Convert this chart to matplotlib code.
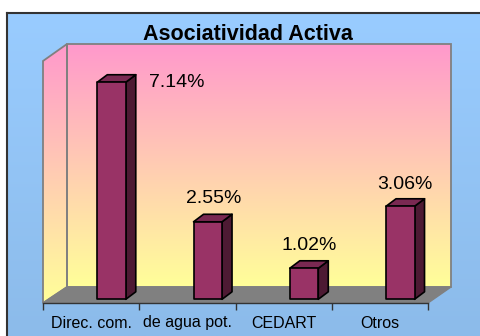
import numpy as np
import matplotlib.pyplot as plt
from matplotlib.colors import LinearSegmentedColormap
from matplotlib.patches import Polygon

plt.rcParams['font.family'] = ['Liberation Sans', 'DejaVu Sans']

# Data
categorias = ["Direc. com.", "de agua pot.", "CEDART", "Otros"]
porcentajes = [7.14, 2.55, 1.02, 3.06]
etiquetas = ["7.14%", "2.55%", "1.02%", "3.06%"]

# label offsets in pixels (first one sits beside the tall bar)
offs_etiq = [(60, -12), (1, 11), (0, 11), (0, 10)]

W, H = 481, 336
fig = plt.figure(figsize=(W / 100, H / 100), dpi=100)

# background layer in pixel coordinates
bg = fig.add_axes([0, 0, 1, 1])
bg.axis('off')

azul = LinearSegmentedColormap.from_list('azul', ['#99CCFF', '#8CBBEA'])
grad = np.linspace(0, 1, 256).reshape(-1, 1)
bg.imshow(grad, cmap=azul, extent=(8, W, H, 13), aspect='auto', origin='upper', zorder=0)
bg.plot([7.5, 7.5], [H, 12.5], color='#333333', lw=1.5, solid_capstyle='projecting', zorder=1)
bg.plot([7.5, W], [12.5, 12.5], color='#333333', lw=1.5, solid_capstyle='projecting', zorder=1)

pared = LinearSegmentedColormap.from_list('pared', ['#FF99CC', '#FFFF99'])

# back wall
bg.imshow(grad, cmap=pared, extent=(67, 451, 287, 44), aspect='auto', origin='upper', zorder=2)
bg.add_patch(Polygon([(67, 44), (451, 44), (451, 287), (67, 287)], closed=True,
                     fill=False, ec='#808080', lw=1.3, zorder=3))

# side wall
lado = Polygon([(43, 61), (67, 44), (67, 287), (43, 303)], closed=True,
               fill=False, ec='#808080', lw=1.3, zorder=3)
im = bg.imshow(grad, cmap=pared, extent=(43, 67, 303, 44), aspect='auto', origin='upper', zorder=2)
bg.add_patch(lado)
im.set_clip_path(lado)

# floor
bg.add_patch(Polygon([(43, 303), (428, 303), (451, 287), (67, 287)], closed=True,
                     fc='#808080', ec='#808080', lw=1, zorder=3))

bg.text(248, 40.5, "Asociatividad Activa", ha='center', va='baseline',
        fontsize=15.5, fontweight='bold', color='black', zorder=4)

bg.set_xlim(0, W)
bg.set_ylim(H, 0)

# front plane of the chart
px_y = 30.4  # pixels per percent
y0 = -3.7 / px_y
top_px = 299.3 - 8 * px_y
ax = fig.add_axes([43 / W, (H - 303) / H, 385 / W, (303 - top_px) / H])
ax.patch.set_visible(False)
ax.set_xlim(-0.5, 3.5)
ax.set_ylim(y0, 8)
for s in ['top', 'right', 'left']:
    ax.spines[s].set_visible(False)
ax.spines['bottom'].set_color('#333333')
ax.spines['bottom'].set_linewidth(1)
ax.set_yticks([])
ax.set_xticks(np.arange(len(categorias) + 1) - 0.5)
ax.set_xticklabels([])
ax.tick_params(axis='x', which='major', direction='out', length=5, width=1, color='#333333')
ax.set_xticks(np.arange(len(categorias)), minor=True)
ax.set_xticklabels(categorias, minor=True, fontsize=11.5)
ax.tick_params(axis='x', which='minor', length=0, pad=9)

px_x = 385 / 4
ancho = 28.5 / px_x
desp = 20.4 / px_x
dx = 10 / px_x
dy = 7.5 / px_y

for i, v in enumerate(porcentajes):
    x0 = i + desp - ancho / 2
    x1 = x0 + ancho
    frente = [(x0, 0), (x1, 0), (x1, v), (x0, v)]
    costado = [(x1, 0), (x1 + dx, dy), (x1 + dx, v + dy), (x1, v)]
    tapa = [(x0, v), (x1, v), (x1 + dx, v + dy), (x0 + dx, v + dy)]
    for pts, c in [(costado, '#4D1A33'), (tapa, '#7A2952'), (frente, '#993366')]:
        ax.add_patch(Polygon(pts, closed=True, fc=c, ec='black', lw=1.2,
                             joinstyle='round', clip_on=False, zorder=3))
    ax.annotate(etiquetas[i], xy=(i + desp + dx / 2, v + dy), xytext=offs_etiq[i],
                textcoords='offset pixels', ha='center', va='baseline',
                fontsize=14, color='black', zorder=4)

fig.savefig('out.png', dpi=100)
